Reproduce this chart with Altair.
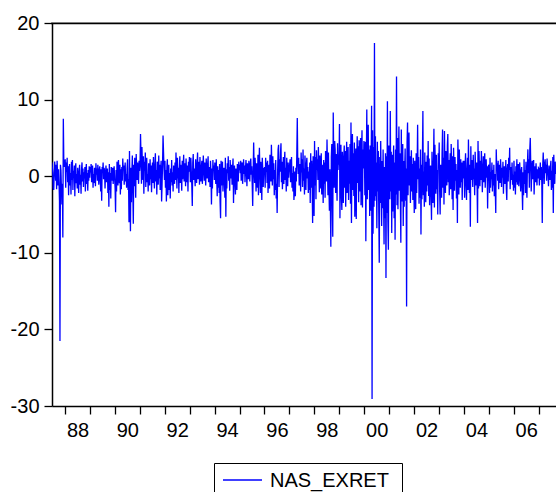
import altair as alt
import pandas as pd

# Weekly NAS_EXRET values (percent), one list per calendar year
y1987 = [1.8, 1.2, 0.5, -1.5, -1.8, 0.3, 1.9, 1.0, -0.6, 1.5, -1.7, 2.0, 0.4, -1.2, 0.9, -0.8, -3.2,
         -21.5, 1.5, 0.8, -1.5, -3.7, -1.0, -8.0, 7.5, 2.0, 1.2]
y1988 = [2.2, -1.5, 1.8, 0.6, 2.4, -0.8, 1.3, -2.5, 0.9, 1.6, -1.2, 0.4, -2.4, 1.9, -0.5, 2.1, -1.8, 0.7,
         -0.2, 1.4, -2.6, 0.8, 1.7, -0.9, 0.3, -1.6, 1.1, -0.4, -2.2, 0.6, 1.5, -1.1, 0.2, -2.3, 0.9, 1.8,
         -0.7, 1.0, -1.4, 0.5, -0.3, 1.2, -2.0, 0.7, 1.6, -1.0, 0.4, -1.9, 0.8, -0.6, 1.3, -0.2]
y1989 = [1.2, 0.5, 1.6, -0.8, 0.9, 1.4, -1.5, 0.3, -0.9, 1.1, 0.6, -1.3, 1.7, 0.2, 1.0, -0.6, 1.5, 0.4,
         -1.1, 0.8, 1.3, -0.5, -2.0, 0.9, -3.2, 1.2, 0.5, 1.8, -0.4, 1.1, 0.7, -1.6, 0.3, 1.4, -0.8, 0.6,
         1.0, -2.2, 0.5, -4.0, 1.6, -1.8, 0.4, -2.9, 1.2, 0.8, -0.6, 1.1, -1.0, 0.5, 1.3, -0.3]
y1990 = [-1.5, -4.7, 0.8, -2.0, 1.9, 0.6, -1.2, 2.1, 0.4, -0.9, 1.5, -2.4, 0.9, -1.7, 1.2, -0.6, 2.3, 0.8,
         1.4, -1.1, 0.5, 1.8, -0.7, 0.3, -1.5, 1.0, 2.2, -1.8, -0.4, -6.0, 3.3, -2.5, -7.2, 1.1, -3.4, 0.6,
         2.7, -2.0, -6.2, 1.5, -1.3, 2.4, 0.8, -2.8, 2.9, 1.2, -0.5, 1.8, 0.4, -1.0, 2.0, 0.7]
y1991 = [1.5, 5.5, 2.8, -1.0, 3.8, 1.2, -0.5, 2.6, -2.3, 1.9, 0.7, 3.1, -1.4, 1.0, 2.4, -0.8, 0.3, -2.0,
         1.7, 0.9, -1.2, 2.2, -0.4, 1.4, -2.1, 0.6, 1.8, -0.9, 2.5, 0.2, -1.6, 1.3, 3.0, -0.7, 0.8, -2.4,
         1.9, 0.4, -1.1, 2.7, -0.3, 1.5, -1.8, 0.6, 2.0, -3.3, -1.0, 1.6, 5.3, 3.2, 1.0, -0.5]
y1992 = [2.0, -1.5, 0.8, -3.3, 1.2, 2.2, -2.5, -0.6, 1.5, -1.8, 0.4, -2.9, 1.0, -0.8, 2.1, -1.2, 0.5, -2.0,
         1.4, 0.2, -1.0, 1.8, -0.5, 3.1, 0.6, -1.6, 2.4, -0.3, 1.1, -2.2, 0.8, 2.6, -0.9, 1.5, 0.3, -1.9,
         2.0, -0.4, 1.2, 2.8, -0.7, 0.9, 1.7, -1.3, 2.3, 0.5, -0.8, 1.4, -2.0, 1.9, 0.6, 2.5]
y1993 = [1.5, -0.8, 2.4, 0.6, -1.2, -3.9, 1.8, 2.9, -0.5, 1.0, 0.3, -1.3, 2.2, 0.8, -0.9, 1.6, 3.1, -0.4,
         0.7, 1.9, -1.1, 2.5, 0.2, -0.7, 1.3, 2.0, -1.0, 0.5, 2.7, 1.1, -0.6, 1.8, 0.4, -1.2, 2.3, 0.9,
         -0.3, 1.5, 2.6, -0.8, 0.6, 1.2, -1.4, 2.0, 0.3, -3.7, 1.0, -1.6, 2.1, 0.7, 1.4, -0.5]
y1994 = [1.8, 0.6, -1.0, 2.2, -0.4, -2.6, 1.3, -1.5, 0.8, -2.2, 1.6, -3.3, -5.5, 2.0, -1.2, 0.5, 1.9, -2.0,
         0.3, 1.1, -0.8, -2.8, 2.4, -5.3, 0.9, -1.6, 1.7, 0.4, 2.6, -0.6, 1.2, -1.9, 2.1, 0.7, -0.3, 1.5,
         -1.1, 0.9, 2.3, -3.5, 0.6, 1.4, -0.9, -2.4, 1.0, 0.2, -1.8, 1.6, 0.5, -0.7, 1.9, 0.8]
y1995 = [1.5, 0.4, 2.0, -0.6, 1.2, 1.8, -1.0, 0.7, 2.2, 0.3, 1.4, -0.8, 1.0, 2.1, 0.5, -1.3, 1.7, 0.9,
         -0.4, 2.0, 1.1, -0.7, 1.6, 2.3, 0.2, 1.3, -1.1, -3.9, 0.6, 4.4, 1.0, -0.9, 2.4, 0.8, -2.0, 1.7,
         0.3, -1.5, 2.8, -2.5, 1.2, 3.7, 0.5, -2.2, 1.9, -0.6, -3.1, 2.4, 0.9, -1.4, 1.1, 0.4]
y1996 = [1.2, -1.5, 2.4, 0.6, 1.8, -0.9, 2.0, -2.2, 0.4, 1.5, -1.6, 2.8, 0.9, -0.7, 4.1, 1.3, -1.2, 2.6,
         -0.4, 1.7, -2.5, 0.8, -1.8, 2.1, -2.9, -1.0, -4.8, 0.5, 3.5, 4.1, -1.4, 2.2, 0.6, 3.0, 4.3, -0.8,
         1.9, -1.7, 0.3, 2.5, -1.0, 1.6, 3.2, -0.5, 1.1, -2.0, 2.4, 0.7, -1.3, 1.8, -0.2, 0.9]
y1997 = [1.5, 2.2, -0.8, 1.0, 2.5, -1.5, 0.4, -2.0, 1.3, -3.1, -1.8, 0.6, -2.6, 1.1, -0.7, 2.9, 7.6, 1.8,
         0.3, 2.4, -1.2, 1.6, 0.8, -2.0, 3.1, 0.5, 2.2, -1.4, 3.5, -0.6, 1.0, -2.4, 2.7, 0.9, -1.8, 1.5,
         2.4, -0.3, 1.2, -2.2, 0.6, -1.8, 1.8, -3.5, 3.0, -1.5, 2.0, -0.9, -6.1, 2.6, 0.7, -5.2]
y1998 = [4.6, -1.2, 2.5, -3.0, 3.4, 0.8, 2.2, -0.5, 3.8, 1.1, -2.1, 2.7, 0.4, -1.6, 3.0, -2.4, 1.5, 0.6,
         -3.5, 2.1, -1.0, 1.8, -2.8, 3.3, 2.4, -0.7, 4.8, 1.2, -2.5, 3.1, -1.4, -4.5, 0.9, -3.8, -9.2, 2.5,
         4.2, -3.0, -7.9, 8.3, 2.4, -1.5, 4.6, 3.5, -2.2, 2.9, 1.0, -3.2, 4.3, 0.8, 2.8, 1.5]
y1999 = [6.8, -5.5, 2.1, 4.1, -2.7, -4.4, 3.2, 0.8, -3.5, 2.6, 4.0, -1.5, 3.3, -4.0, 1.2, 4.5, -2.2, 0.6,
         3.8, -3.1, 2.0, -1.0, 4.2, -3.6, 7.0, -6.1, 2.5, 5.5, -1.8, 3.0, -2.6, 4.4, -5.3, 1.1, 3.6, -5.6,
         2.2, 5.2, -0.9, 3.9, -3.4, 4.7, 1.6, -2.0, 5.0, -3.8, 2.9, 6.0, -4.1, 3.5, 1.0, 4.6]
y2000 = [3.0, -2.5, 4.5, -8.5, 1.5, 8.7, -3.0, 2.2, 6.7, -1.8, 3.5, -5.2, 4.0, -4.5, 1.0, 9.2, -29.1, 6.0,
         -7.5, 3.8, -4.0, 17.4, -3.2, 5.2, -2.6, 1.8, -6.8, 4.5, -2.0, 3.3, -4.8, -11.3, 2.5, -3.5, 4.6,
         -1.5, -6.5, 2.0, -4.2, 3.5, -2.8, -8.9, 1.2, -5.5, 3.0, -13.3, 2.6, -4.8, 9.8, -6.0, -9.6, 4.0]
y2001 = [1.5, -3.0, 8.5, -2.0, 3.2, -7.4, 2.8, -4.6, 0.9, 4.0, -5.5, 1.8, -8.3, 3.5, -2.4, 13.0, -3.8, 5.0,
         -4.3, 2.2, 6.5, -1.9, 3.0, -2.8, -8.7, 6.1, -3.3, 1.5, 4.2, -6.5, 2.0, -4.0, 0.8, 3.6, -3.2, 1.0,
         -17.0, 4.5, 7.0, -2.5, 3.8, 5.7, -1.2, 2.6, -3.5, 0.9, 3.4, -2.0, 1.6, -3.1, 2.4, -1.0]
y2002 = [-4.8, 2.0, -1.5, -4.3, 3.0, -2.2, 1.2, 6.7, -0.4, 2.5, -3.6, 1.0, -2.8, 3.5, -7.6, 1.5, -3.0, 2.2,
         8.5, -2.5, 0.6, -4.0, 3.1, -1.8, -3.4, 1.9, -2.0, 2.7, -1.2, 4.6, -2.6, 2.3, -3.8, 0.5, 1.4, -2.6,
         -5.7, 3.2, 0.2, -3.5, 1.0, 6.2, -4.1, 4.1, 1.5, -2.3, 2.8, -1.7, 0.8, -5.0, 3.0, 1.1]
y2003 = [4.4, -2.0, -5.0, 1.5, -0.4, -2.8, 3.0, 6.1, -1.5, 2.4, -3.7, 5.9, 1.0, -2.2, 3.3, 0.5, -1.2, 4.0,
         5.5, -0.8, 2.1, -2.5, 0.9, 3.0, -1.7, 4.2, 1.1, -3.0, 2.6, -4.4, 3.7, 0.4, -1.9, 2.5, -0.6, 1.6,
         -2.9, 0.8, -6.1, 4.8, 1.3, -2.4, 3.5, 0.2, -1.5, 2.2, -0.8, 1.8, -3.1, 0.7, 2.0, -0.3]
y2004 = [2.0, -2.8, 1.2, 3.0, -1.0, -3.1, 0.6, 2.4, -1.8, 4.8, 0.3, -2.2, 1.5, -6.6, 3.9, -0.5, 2.1, 0.7,
         -1.4, 2.8, -0.4, 1.0, -2.5, 3.2, 0.5, -1.2, 1.8, -0.9, -6.1, 4.6, -1.6, 3.3, 0.8, -1.3, 2.0, -0.5,
         3.3, 1.1, -2.1, 0.4, 2.6, -0.8, 1.7, 3.0, -1.5, 0.9, 2.2, -0.2, 1.3, -4.2, 0.6, 1.5]
y2005 = [1.2, -2.2, 2.4, -1.5, 0.5, -0.4, 1.8, -2.0, 0.8, -1.2, 1.5, -2.6, 0.3, -1.8, -4.8, 3.5, 0.9, 1.7,
         -0.6, 2.0, -1.7, 0.4, 1.5, -0.9, 2.2, 0.6, -1.4, 1.1, -0.2, 1.9, -2.3, 0.7, 1.3, -1.0, 0.5, 2.1,
         -1.6, -3.1, 1.0, 1.6, -0.7, 2.4, 0.8, 3.7, -1.7, 0.3, 1.2, -0.5, 1.8, -1.1, 0.2, -1.9]
y2006 = [2.0, -1.5, 0.6, -2.4, 1.3, -0.8, 2.2, -1.1, 0.4, 1.6, -1.3, 0.9, 1.8, -0.5, -2.0, 0.7, 1.2, -1.6,
         -4.4, 0.5, -2.5, 2.2, -1.0, 0.8, -2.2, 1.9, -0.6, -2.8, 1.4, 3.5, 0.4, 2.2, -1.5, 3.5, 5.0, 1.3,
         -2.0, 1.0, 2.0, -0.4, 1.6, 2.1, -2.4, 0.5, 1.3, -0.8, 1.7, 0.2, -1.2, 0.9, -0.3, 1.1]
y2007 = [1.0, -1.2, 0.6, 1.8, -0.5, 1.2, -0.8, -6.1, 1.5, 3.1, 0.8, -1.0, 1.6, 2.2, 0.4, 1.5, -0.6, 2.3,
         0.9, 0.2, -1.3, 1.4, 0.6, -0.5, 1.2, 2.0, -1.8, 0.7, -1.5, 2.5, -4.8, 2.8, 0.5, -1.0, 1.9, 0.3, 1.4]

series_name = "NAS_EXRET"
year_ticks = list(range(1988, 2008))
y_ticks = [-30, -20, -10, 0, 10, 20]

by_year = {1987: y1987, 1988: y1988, 1989: y1989, 1990: y1990, 1991: y1991, 1992: y1992,
           1993: y1993, 1994: y1994, 1995: y1995, 1996: y1996, 1997: y1997, 1998: y1998,
           1999: y1999, 2000: y2000, 2001: y2001, 2002: y2002, 2003: y2003, 2004: y2004,
           2005: y2005, 2006: y2006, 2007: y2007}

rows = []
for yr, vals in by_year.items():
    n = len(vals)
    for i, v in enumerate(vals):
        if yr == 1987:
            t = yr + (i + 24.5) / 52.0  # sample starts in mid 1987
        elif yr == 2007:
            t = yr + (i + 0.5) / 52.0   # sample runs past the visible edge
        else:
            t = yr + (i + 0.5) / n
        rows.append({"t": t, "v": v, "series": series_name})
df = pd.DataFrame(rows)
legend_df = pd.DataFrame({"series": [series_name]})

FONT = "Liberation Sans"
BLUE = "#0000ff"
W, H = 504, 383
x_scale = alt.Scale(domain=[1987.4785, 2007.695], nice=False, zero=False)

line = alt.Chart(df).mark_line(clip=True, strokeWidth=1.3, color=BLUE).encode(
    x=alt.X("t:Q", scale=x_scale,
            axis=alt.Axis(values=year_ticks, title=None, grid=False, tickSize=8,
                          labelExpr="datum.value % 2 == 0 ? substring(toString(datum.value), 2) : ''",
                          labelOffset=12.5, labelFlush=False, labelOverlap=False,
                          labelPadding=6, labelFontSize=20, labelFont=FONT,
                          labelColor="black", tickColor="black", domainColor="black",
                          domainWidth=1.5, tickWidth=1.3)),
    y=alt.Y("v:Q",
            scale=alt.Scale(domain=[-30, 20], nice=False, zero=False),
            axis=alt.Axis(values=y_ticks, title=None, grid=False, tickSize=8,
                          labelExpr="toString(datum.value)",
                          labelPadding=5, labelFontSize=20, labelFont=FONT,
                          labelColor="black", tickColor="black", domainColor="black",
                          domainWidth=1.5, tickWidth=1.3)),
    detail="series:N",
)

# top frame line of the plot box (a thin filled strip along the top edge)
top_frame = alt.Chart(legend_df).mark_rect(color="black", clip=False).encode(
    x=alt.value(-0.75), x2=alt.value(W), y=alt.value(-0.5), y2=alt.value(1.2)
)

# legend drawn below the plot (positions in pixels relative to the plot area)
legend_box = alt.Chart(legend_df).mark_rect(fill="white", stroke="black", strokeWidth=1, clip=False).encode(
    x=alt.value(162.5), x2=alt.value(350.5), y=alt.value(440.5), y2=alt.value(480)
)
legend_line = alt.Chart(legend_df).mark_rule(color=BLUE, strokeWidth=1.5, clip=False).encode(
    x=alt.value(171), x2=alt.value(210), y=alt.value(457)
)
legend_text = alt.Chart(legend_df).mark_text(
    align="left", baseline="middle", fontSize=20, font=FONT, color="black", clip=False
).encode(x=alt.value(218), y=alt.value(458), text="series:N")

chart = alt.layer(line, top_frame, legend_box, legend_line, legend_text).properties(
    width=W, height=H,
    autosize=alt.AutoSizeParams(type="none"),
    padding={"left": 52, "top": 23, "right": 0, "bottom": 86},
    background="white",
).configure_view(strokeWidth=0)

chart.save("out.html", embed_options={"renderer": "svg", "actions": False})
